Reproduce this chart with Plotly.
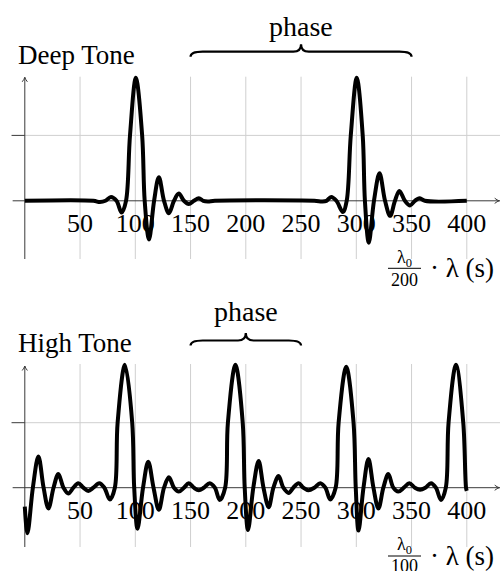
import plotly.graph_objects as go

# ---------------- data ----------------
deep_x = [0, 62, 68, 73, 78, 83, 87.6, 91.6, 95.2, 100.5, 106.2, 108.5, 112.4, 117, 121.3, 126,
          130.4, 135, 139.4, 144, 148.4, 153, 157.5, 161.5, 165.6, 172,
          262, 269, 273, 277.3, 282, 287.8, 291.3, 295.0, 300.4, 305.8, 307.8, 311.3, 316, 321,
          326, 330.6, 335, 339, 344, 348.7, 353, 357, 362, 400]
deep_y = [0, 0, -0.02, 0, 0.06, 0, -0.18, 0, 1.0, 1.88, 1.0, 0, -0.59, 0, 0.36, 0,
          -0.19, 0, 0.11, 0, -0.05, 0, 0.04, 0, -0.01, 0,
          0, -0.01, 0, 0.06, 0, -0.17, 0, 1.0, 1.88, 1.0, 0, -0.64, 0, 0.42,
          0, -0.23, 0, 0.15, 0, -0.07, 0, 0.04, 0, 0]

high_x = [0, 2.4, 7.3, 12.3, 17, 21.4, 26, 30.4, 35, 39.4, 44, 48.4, 53, 57.5, 62, 67.4, 72, 77,
          81.5, 84, 90.6, 97.2, 99.0,
          102, 107, 111.7, 116.5, 121.3, 126, 130.4, 135, 139.4, 144, 148.4, 153, 157.5, 162, 167.4,
          172, 176.4, 181.3, 183.8, 190.6, 197.2, 199.0,
          202, 206.8, 211.6, 216, 220.7, 225, 229.7, 234, 238.8, 243, 247.8, 252, 256.8, 262, 267.4,
          272, 276.4, 281.3, 284, 290.9, 297.5, 299.5,
          302, 306.5, 311, 315.5, 320, 324.5, 329, 333.5, 338, 343, 348, 353, 357.7, 362.5, 367.6,
          372, 376.7, 381, 383.5, 390.2, 396.8, 399.3, 400]
high_y = [-0.29, -0.70, 0, 0.48, 0, -0.32, 0, 0.21, 0, -0.09, 0, 0.07, 0, -0.05, 0, 0.07, 0, -0.18,
          0, 1.0, 1.89, 1.0, 0,
          -0.63, 0, 0.40, 0, -0.34, 0, 0.16, 0, -0.06, 0, 0.07, 0, -0.04, 0, 0.07,
          0, -0.19, 0, 1.0, 1.89, 1.0, 0,
          -0.65, 0, 0.41, 0, -0.30, 0, 0.18, 0, -0.08, 0, 0.07, 0, -0.04, 0, 0.07,
          0, -0.18, 0, 1.0, 1.86, 1.0, 0,
          -0.66, 0, 0.44, 0, -0.32, 0, 0.21, 0, -0.06, 0, 0.07, 0, -0.03, 0, 0.07,
          0, -0.19, 0, 1.0, 1.89, 1.0, 0, -0.05]

tick_vals = [50, 100, 150, 200, 250, 300, 350, 400]
tick_text = ["50", "100", "150", "200", "250", "300", "350", "400"]
titles = ["Deep Tone", "High Tone"]
denominators = ["200", "100"]
brace_spans = [(150, 350), (150, 250)]
brace_label = "phase"
y_grid_val = 1

# ---------------- layout helpers ----------------
W, H = 500, 571
FONT = "Liberation Serif"
X0_PX, XS = 24.8, 1.105           # pixel of x=0 and pixels per unit
xrange = [-X0_PX / XS, (W - X0_PX) / XS]


def py(p):
    return 1 - p / H


def pxx(p):
    return p / W


panels = [
    dict(top=68, bot=263, zero=200.8, unit=65.4, ax_top=77.3, ax_bot=259, grid_top=76.7, grid_bot=259,
         title_y=55, phase_y=27, b_end=56.7, b_main=51.7, b_tip=44.3,
         num_y=258, bar_y=268.3, den_y=280, lab_y=268),
    dict(top=356, bot=551, zero=487.7, unit=65.0, ax_top=366, ax_bot=547, grid_top=364, grid_bot=547,
         title_y=343, phase_y=311, b_end=345.5, b_main=340.5, b_tip=333.0,
         num_y=545.5, bar_y=556, den_y=566, lab_y=556),
]
series = [(deep_x, deep_y), (high_x, high_y)]

fig = go.Figure()
shapes, annotations = [], []
GRID = "#cfcfcf"
AXC = "#3a3a3a"

for i, (P, (sx, sy)) in enumerate(zip(panels, series)):
    n = "" if i == 0 else str(i + 1)
    xa, ya = "x" + n, "y" + n

    def val(p, P=P):
        return (P["zero"] - p) / P["unit"]

    fig.add_trace(go.Scatter(x=sx, y=sy, mode="lines", xaxis=xa, yaxis=ya,
                             line=dict(color="black", width=4, shape="spline", smoothing=1.0),
                             hoverinfo="skip", showlegend=False))

    fig.update_layout(**{
        ("xaxis" + n): dict(domain=[0, 1], range=xrange, anchor="free", position=py(P["zero"]),
                            tickmode="array", tickvals=tick_vals, ticktext=tick_text, ticks="",
                            showgrid=False, zeroline=False, showline=False, layer="below traces",
                            ticklabelstandoff=4,
                            tickfont=dict(family=FONT, size=26, color="black"), fixedrange=True),
        ("yaxis" + n): dict(domain=[py(P["bot"]), py(P["top"])],
                            range=[val(P["bot"]), val(P["top"])], visible=False, anchor=xa,
                            fixedrange=True),
    })

    # vertical grid lines
    for v in tick_vals:
        shapes.append(dict(type="line", xref=xa, yref=ya, x0=v, x1=v,
                           y0=val(P["grid_bot"]), y1=val(P["grid_top"]),
                           line=dict(color=GRID, width=1), layer="below"))
    # horizontal grid line + tick
    shapes.append(dict(type="line", xref=xa, yref=ya, x0=0, x1=xrange[1], y0=y_grid_val, y1=y_grid_val,
                       line=dict(color=GRID, width=1), layer="below"))
    shapes.append(dict(type="line", xref=xa, yref=ya, x0=-12, x1=0, y0=y_grid_val, y1=y_grid_val,
                       line=dict(color=AXC, width=1), layer="below"))
    # axes lines
    shapes.append(dict(type="line", xref=xa, yref=ya, x0=0, x1=0,
                       y0=val(P["ax_bot"]), y1=val(P["ax_top"]),
                       line=dict(color=AXC, width=1), layer="below"))
    shapes.append(dict(type="line", xref=xa, yref=ya, x0=-11, x1=xrange[1], y0=0, y1=0,
                       line=dict(color=AXC, width=1), layer="below"))
    # arrow heads (pixel-sized chevrons)
    ax_px, top_px = X0_PX, P["ax_top"]
    shapes.append(dict(type="path", xref="paper", yref="paper",
                       path=(f"M {pxx(ax_px - 2.6)},{py(top_px + 4.5)} Q {pxx(ax_px - 0.6)},{py(top_px + 2)} "
                             f"{pxx(ax_px)},{py(top_px)} Q {pxx(ax_px + 0.6)},{py(top_px + 2)} "
                             f"{pxx(ax_px + 2.6)},{py(top_px + 4.5)}"),
                       line=dict(color=AXC, width=1)))
    zp, rp = P["zero"], W - 0.8
    shapes.append(dict(type="path", xref="paper", yref="paper",
                       path=(f"M {pxx(rp - 4.5)},{py(zp - 2.6)} Q {pxx(rp - 2)},{py(zp - 0.6)} "
                             f"{pxx(rp)},{py(zp)} Q {pxx(rp - 2)},{py(zp + 0.6)} "
                             f"{pxx(rp - 4.5)},{py(zp + 2.6)}"),
                       line=dict(color=AXC, width=1)))

    # brace
    xL, xR = brace_spans[i]
    xc = (xL + xR) / 2
    d1, d2 = 11, 7
    ye, ym, yt = py(P["b_end"]), py(P["b_main"]), py(P["b_tip"])
    path = (f"M {xL},{ye} Q {xL},{ym} {xL + d1},{ym} L {xc - d2},{ym} "
            f"Q {xc},{ym} {xc},{yt} Q {xc},{ym} {xc + d2},{ym} "
            f"L {xR - d1},{ym} Q {xR},{ym} {xR},{ye}")
    shapes.append(dict(type="path", xref=xa, yref="paper", path=path,
                       line=dict(color="black", width=2.2)))
    annotations.append(dict(x=xc, y=py(P["phase_y"]), xref=xa, yref="paper", text=brace_label,
                            showarrow=False, xanchor="center", yanchor="middle",
                            font=dict(family=FONT, size=28, color="black")))
    # title
    annotations.append(dict(x=pxx(16), y=py(P["title_y"]), xref="paper", yref="paper", text=titles[i],
                            showarrow=False, xanchor="left", yanchor="middle",
                            font=dict(family=FONT, size=27, color="black")))
    # axis label  (lambda_0 / N) * lambda (s)
    annotations.append(dict(x=pxx(404), y=py(P["num_y"]), xref="paper", yref="paper",
                            text="λ<sub>0</sub>", showarrow=False, xanchor="center", yanchor="middle",
                            font=dict(family=FONT, size=18, color="black")))
    annotations.append(dict(x=pxx(404), y=py(P["den_y"]), xref="paper", yref="paper",
                            text=denominators[i], showarrow=False, xanchor="center", yanchor="middle",
                            font=dict(family=FONT, size=18, color="black")))
    shapes.append(dict(type="line", xref="paper", yref="paper", x0=pxx(388), x1=pxx(421),
                       y0=py(P["bar_y"]), y1=py(P["bar_y"]), line=dict(color="black", width=1)))
    annotations.append(dict(x=pxx(428), y=py(P["lab_y"]), xref="paper", yref="paper",
                            text="· λ (s)", showarrow=False, xanchor="left", yanchor="middle",
                            font=dict(family=FONT, size=27, color="black")))

fig.update_layout(width=W, height=H, margin=dict(l=0, r=0, t=0, b=0), autosize=False,
                  paper_bgcolor="white", plot_bgcolor="white", showlegend=False,
                  shapes=shapes, annotations=annotations)

fig.write_html("out.html")
